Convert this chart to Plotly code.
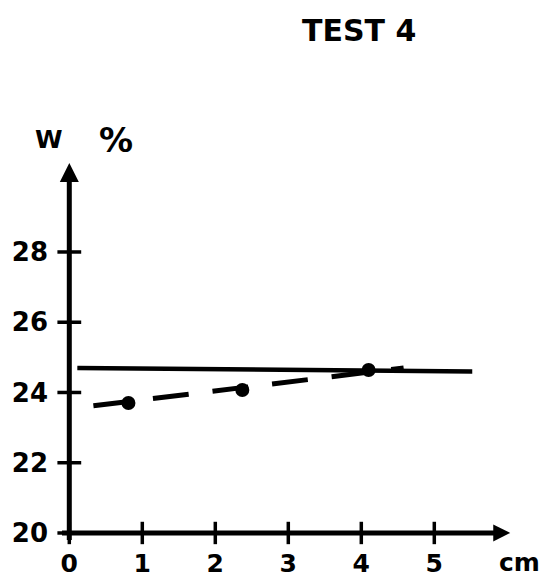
import plotly.graph_objects as go

# Water content W (%) versus depth (cm), test 4
x_ticks = [0, 1, 2, 3, 4, 5]
y_ticks = [20, 22, 24, 26, 28]

# reference level (solid line)
x_level = [0.11, 5.52]
y_level = [24.70, 24.60]

# trend (dashed line)
x_trend = [0.33, 4.58]
y_trend = [23.62, 24.70]

# measured points
x_meas = [0.81, 2.37, 4.10]
y_meas = [23.70, 24.07, 24.64]

# axis extents (arrow tips)
x_axis_end = 6.04
y_axis_end = 30.53
x_axis_start = -0.15
y_axis_start = 19.72

FONT = "DejaVu Sans"
INK = "black"

W, H = 540, 579
ML, MR, MT, MB = 62, 0, 0, 39
PW, PH = W - ML - MR, H - MT - MB


def px(xp, yp):
    """Figure pixel position -> paper coordinates of the plot area."""
    return (xp - ML) / PW, 1 - (yp - MT) / PH


fig = go.Figure()

# axes drawn as thick lines ending in arrows
fig.add_trace(go.Scatter(x=[x_axis_start, x_axis_end - 0.1], y=[20, 20], mode="lines",
                         line=dict(color=INK, width=5), cliponaxis=False, hoverinfo="skip"))
fig.add_trace(go.Scatter(x=[0, 0], y=[y_axis_start, y_axis_end - 0.3], mode="lines",
                         line=dict(color=INK, width=5), cliponaxis=False, hoverinfo="skip"))
fig.add_trace(go.Scatter(x=[x_axis_end], y=[20], mode="markers",
                         marker=dict(symbol="arrow-right", size=17, color=INK),
                         cliponaxis=False, hoverinfo="skip"))
fig.add_trace(go.Scatter(x=[0], y=[y_axis_end], mode="markers",
                         marker=dict(symbol="arrow-up", size=19, color=INK),
                         cliponaxis=False, hoverinfo="skip"))

# tick marks crossing the axes
fig.add_trace(go.Scatter(x=[0] * len(y_ticks), y=y_ticks, mode="markers",
                         marker=dict(symbol="line-ew", size=17, line=dict(color=INK, width=3.5)),
                         cliponaxis=False, hoverinfo="skip"))
fig.add_trace(go.Scatter(x=x_ticks, y=[20] * len(x_ticks), mode="markers",
                         marker=dict(symbol="line-ns", size=16, line=dict(color=INK, width=3.5)),
                         cliponaxis=False, hoverinfo="skip"))

# data
fig.add_trace(go.Scatter(x=x_level, y=y_level, mode="lines",
                         line=dict(color=INK, width=4.5), hoverinfo="skip"))
fig.add_trace(go.Scatter(x=x_trend, y=y_trend, mode="lines",
                         line=dict(color=INK, width=5, dash="36px,24px"), hoverinfo="skip"))
fig.add_trace(go.Scatter(x=x_meas, y=y_meas, mode="markers",
                         marker=dict(symbol="circle", size=14, color=INK), hoverinfo="skip"))

bold = dict(family=FONT, color=INK, weight="bold")


def label(text, xp, yp, size):
    x, y = px(xp, yp)
    return dict(text=text, x=x, y=y, xref="paper", yref="paper", showarrow=False,
                font=dict(size=size, **bold), xanchor="center", yanchor="middle")


fig.update_layout(
    width=W, height=H,
    margin=dict(l=ML, r=MR, t=MT, b=MB, pad=0, autoexpand=False),
    paper_bgcolor="white", plot_bgcolor="white",
    showlegend=False,
    xaxis=dict(range=[-0.1, -0.1 + PW / 73], showgrid=False, zeroline=False, showline=False,
               tickvals=x_ticks, ticktext=[str(v) for v in x_ticks], ticks="",
               tickfont=dict(size=25, **bold), ticklabelstandoff=6, automargin=False),
    yaxis=dict(range=[19.8, 19.8 + PH / 35.125], showgrid=False, zeroline=False, showline=False,
               tickvals=y_ticks, ticktext=[str(v) for v in y_ticks], ticks="",
               tickfont=dict(size=26, **bold), ticklabelstandoff=13, automargin=False),
    annotations=[
        label("TEST 4", 359, 31, 30),
        label("W", 49, 139, 25),
        label("%", 116, 140, 34),
        label("cm", 519, 562, 25),
    ],
)

fig.write_html("out.html")
